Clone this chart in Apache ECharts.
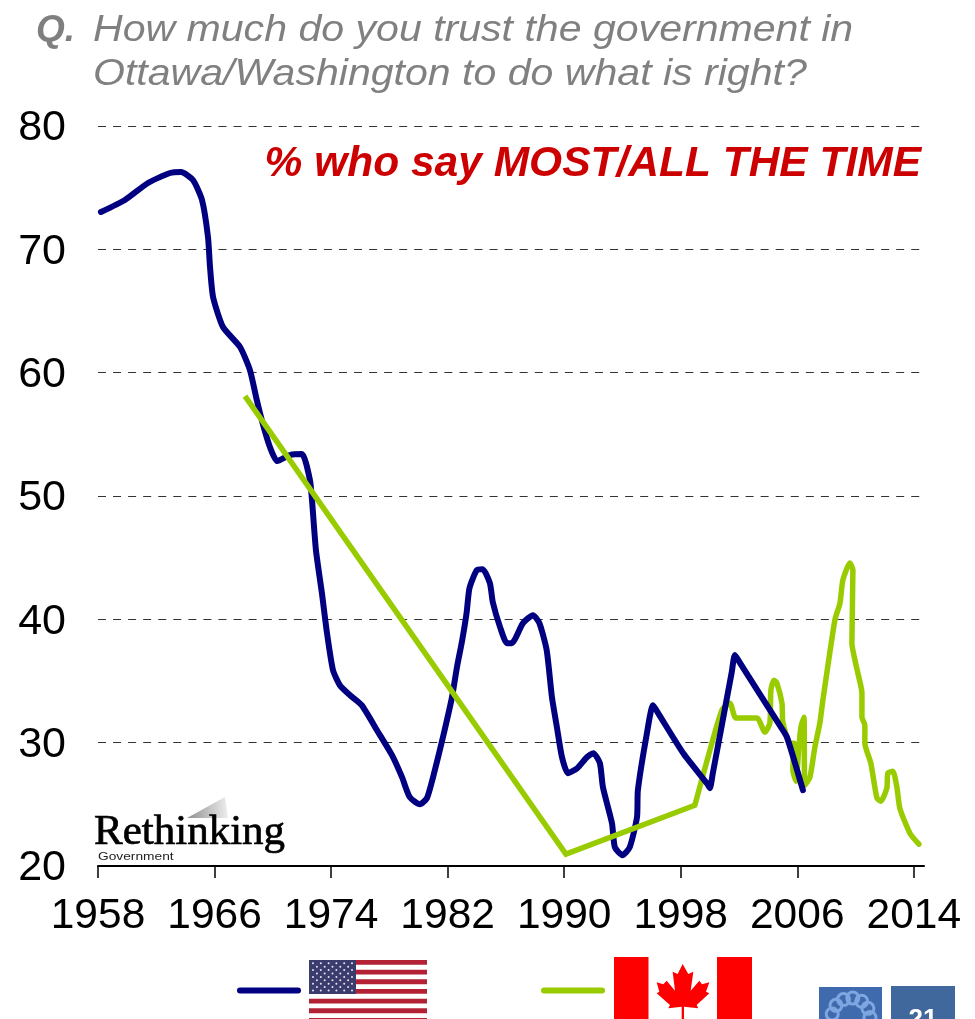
<!DOCTYPE html>
<html><head><meta charset="utf-8">
<style>html,body{margin:0;padding:0;background:#fff}#c{width:975px;height:1019px}</style>
<script src="https://cdn.jsdelivr.net/npm/echarts@6/dist/echarts.min.js"></script></head>
<body><div id="c"></div><script>
const xTicks=[1958,1966,1974,1982,1990,1998,2006,2014];
const usYears=[1958.2,1959.85,1961.43,1962.94,1963.7,1964.52,1965.14,1965.55,1965.69,1965.9,1966.58,1967.75,1968.43,1968.9,1969.3,1969.8,1970.3,1971.18,1972,1972.55,1972.69,1972.96,1973.37,1973.72,1974.13,1974.6,1975.3,1976.1,1977.15,1978.18,1978.87,1979.4,1980.1,1980.58,1981,1981.68,1982.3,1982.64,1983,1983.3,1983.5,1984,1984.4,1984.9,1985.1,1985.6,1986.07,1986.4,1987.17,1987.86,1988.3,1988.8,1989.16,1989.5,1989.85,1990.26,1990.9,1991.56,1992,1992.45,1992.66,1993.28,1993.48,1994,1994.5,1995,1995.06,1995.68,1996.1,1996.5,1998.2,1999.8,2000,2000.2,2001.5,2001.72,2002.1,2004.8,2005.29,2006.39];
const usValues=[73.03,74,75.38,76.19,76.27,75.62,74,71,68.56,66.13,63.7,62.08,60.21,57.78,55.91,53.97,52.83,53.32,53.4,51.29,49.67,45.61,42.12,38.88,35.88,34.66,33.85,33.04,31.01,28.99,27.2,25.58,25.01,25.5,27.2,30.45,33.69,36.12,38.31,40.5,42.53,43.99,44.07,42.94,41.4,39.37,38.07,38.07,39.69,40.34,39.69,37.5,33.69,31.26,28.82,27.53,27.93,28.82,29.15,28.34,26.39,23.47,21.52,20.88,21.52,23.96,26.15,30.77,33.04,32.3,29.1,26.7,26.31,27.5,35.7,37.1,36.4,31.4,30.45,26.15];
const caYears=[1968.09,1990.12,1998.97,1999.87,2000.83,2001.38,2001.79,2003.23,2003.78,2004.12,2004.19,2004.4,2004.6,2004.95,2005.01,2005.5,2005.77,2005.7,2005.91,2006.11,2006.25,2006.46,2006.52,2006.87,2007.21,2007.55,2007.76,2008.58,2008.93,2009.13,2009.61,2009.82,2009.75,2009.96,2010.16,2010.44,2010.44,2010.64,2010.64,2011.05,2011.47,2011.74,2012.15,2012.22,2012.56,2012.84,2013.04,2013.73,2014.35];
const caValues=[58.1,20.96,24.93,28.82,32.64,33.2,32,32,30.85,31.58,34.26,35.07,34.83,33.2,31.66,29.96,29.96,27.77,26.88,29.64,31.26,32.07,26.55,27.2,29.64,31.58,33.45,39.93,41.31,43.18,44.56,43.99,38.07,36.69,35.64,34.02,32.07,31.42,29.96,28.34,25.5,25.26,26.31,27.53,27.69,26.39,24.69,22.66,21.77];
const yMin=20,yMax=80,yStep=10;
const pair=(xs,ys)=>xs.map((x,i)=>[x,ys[i]]);
const SPLIT=3;
const usPts=pair(usYears,usValues), caPts=pair(caYears,caValues);
const G=[];
const txt=(x,y,text,font,fill,extra,el)=>G.push(Object.assign({type:'text',x,y,silent:true,style:Object.assign({text,font,fill},extra||{})},el||{}));
// title
txt(36,31,'Q.','bold italic 37px "Liberation Sans"','#7f7f7f',{textVerticalAlign:'middle'});
txt(93,31,'How much do you trust the government in','italic 37px "Liberation Sans"','#808080',{textVerticalAlign:'middle'},{scaleX:1.11});
txt(93,75,'Ottawa/Washington to do what is right?','italic 37px "Liberation Sans"','#808080',{textVerticalAlign:'middle'},{scaleX:1.11});
txt(921,164,'% who say MOST/ALL THE TIME','bold italic 42.5px "Liberation Sans"','#cc0000',{textAlign:'right',textVerticalAlign:'middle'});
// logo
G.push({type:'polygon',silent:true,shape:{points:[[187,818],[225,797],[228,818]]},style:{fill:new echarts.graphic.LinearGradient(0,0,1,0,[{offset:0,color:'#8f8f8f'},{offset:1,color:'#eeeeee'}])}});
txt(94,833,'Rethinking','43px "Liberation Serif"','#000',{textVerticalAlign:'middle',stroke:'#000',lineWidth:0.7});
txt(98,857,'Government','11px "Liberation Sans"','#222',{textVerticalAlign:'middle'},{scaleX:1.25});
// legend
G.push({type:'line',silent:true,shape:{x1:240,y1:990.5,x2:298,y2:990.5},style:{stroke:'#000080',lineWidth:6,lineCap:'round'}});
G.push({type:'line',silent:true,shape:{x1:544,y1:990.5,x2:602,y2:990.5},style:{stroke:'#99cc00',lineWidth:6,lineCap:'round'}});
// US flag
const fx=309,fy=960,fw=118,period=9.67,sh=4.85;
for(let i=0;i<7;i++)G.push({type:'rect',silent:true,shape:{x:fx,y:fy+i*period,width:fw,height:sh},style:{fill:'#b22234'}});
G.push({type:'rect',silent:true,shape:{x:fx,y:fy,width:47,height:34},style:{fill:'#3c3b6e'}});
for(let r=0;r<9;r++)for(let c=0;c<(r%2?5:6);c++)G.push({type:'circle',silent:true,shape:{cx:fx+4+c*7.8+(r%2?3.9:0),cy:fy+3.3+r*3.4,r:1},style:{fill:'#e6e6ee'}});
// Canada flag
G.push({type:'rect',silent:true,shape:{x:614,y:957,width:34.5,height:62},style:{fill:'#ff0000'}});
G.push({type:'rect',silent:true,shape:{x:717,y:957,width:35,height:62},style:{fill:'#ff0000'}});
const leaf=[[248,42],[265,72],[280,65],[272,122],[298,92],[306,103],[328,97],[318,125],[328,130],[290,165],[295,175],[252,170],[252,207],[245,207],[245,170],[205,175],[210,165],[170,130],[178,125],[170,97],[190,103],[200,92],[225,122],[218,65],[233,72]];
G.push({type:'polygon',silent:true,shape:{points:leaf.map(p=>[600+p[0]/3,950+p[1]/3])},style:{fill:'#ff0000'}});
// page badges
G.push({type:'rect',silent:true,shape:{x:819,y:987,width:63,height:32},style:{fill:'#3f6aad'}});
G.push({type:'rect',silent:true,shape:{x:891,y:986,width:64,height:33},style:{fill:'#41689c'}});
for(let a=0;a<7;a++){const t=Math.PI*(1.05+a*0.16);G.push({type:'circle',silent:true,shape:{cx:851+19*Math.cos(t),cy:1017+19*Math.sin(t),r:6},style:{fill:'none',stroke:'#7ea6e0',lineWidth:3}});}
txt(923,1020,'21','bold 26px "Liberation Sans"','#fff',{textAlign:'center',textVerticalAlign:'middle'});
const chart=echarts.init(document.getElementById('c'),null,{renderer:'canvas'});
const lineBase={type:'line',showSymbol:false,symbol:'none',animation:false,silent:true};
chart.setOption({
 animation:false,backgroundColor:'#fff',
 grid:{left:98,right:51,top:126,bottom:153,containLabel:false},
 xAxis:{type:'value',min:1958,max:2014.7,splitLine:{show:false},
  axisLine:{show:true,onZero:false,lineStyle:{color:'#000',width:2}},
  axisTick:{show:true,length:12,inside:false,customValues:xTicks,lineStyle:{color:'#000',width:1.5}},
  axisLabel:{show:true,customValues:xTicks,margin:29,fontSize:42.5,color:'#000',fontFamily:'Liberation Sans',formatter:v=>String(v),hideOverlap:false,showMinLabel:true,showMaxLabel:true}},
 yAxis:{type:'value',min:yMin,max:yMax,interval:yStep,
  axisLine:{show:false},axisTick:{show:false},
  axisLabel:{margin:32,formatter:v=>'{a|'+v+'}',rich:{a:{fontSize:43,color:'#000',fontFamily:'Liberation Sans',padding:[5,0,0,0]}}},
  splitLine:{show:true,lineStyle:{color:'#333',width:1,type:[8,7.06]}}},
 series:[
  Object.assign({},lineBase,{name:'Canada',z:1,smooth:0.2,data:caPts.slice(SPLIT-1),lineStyle:{color:'#99cc00',width:5.5,join:'round',cap:'round'}}),
  Object.assign({},lineBase,{name:'United States',z:2,smooth:0.2,data:usPts,lineStyle:{color:'#000080',width:6,join:'round',cap:'round'}}),
  Object.assign({},lineBase,{name:'Canada',z:3,smooth:false,data:caPts.slice(0,SPLIT),lineStyle:{color:'#99cc00',width:5.5,join:'miter'}})
 ],
 graphic:G.map(e=>Object.assign({z:10},e))
});
</script></body></html>
